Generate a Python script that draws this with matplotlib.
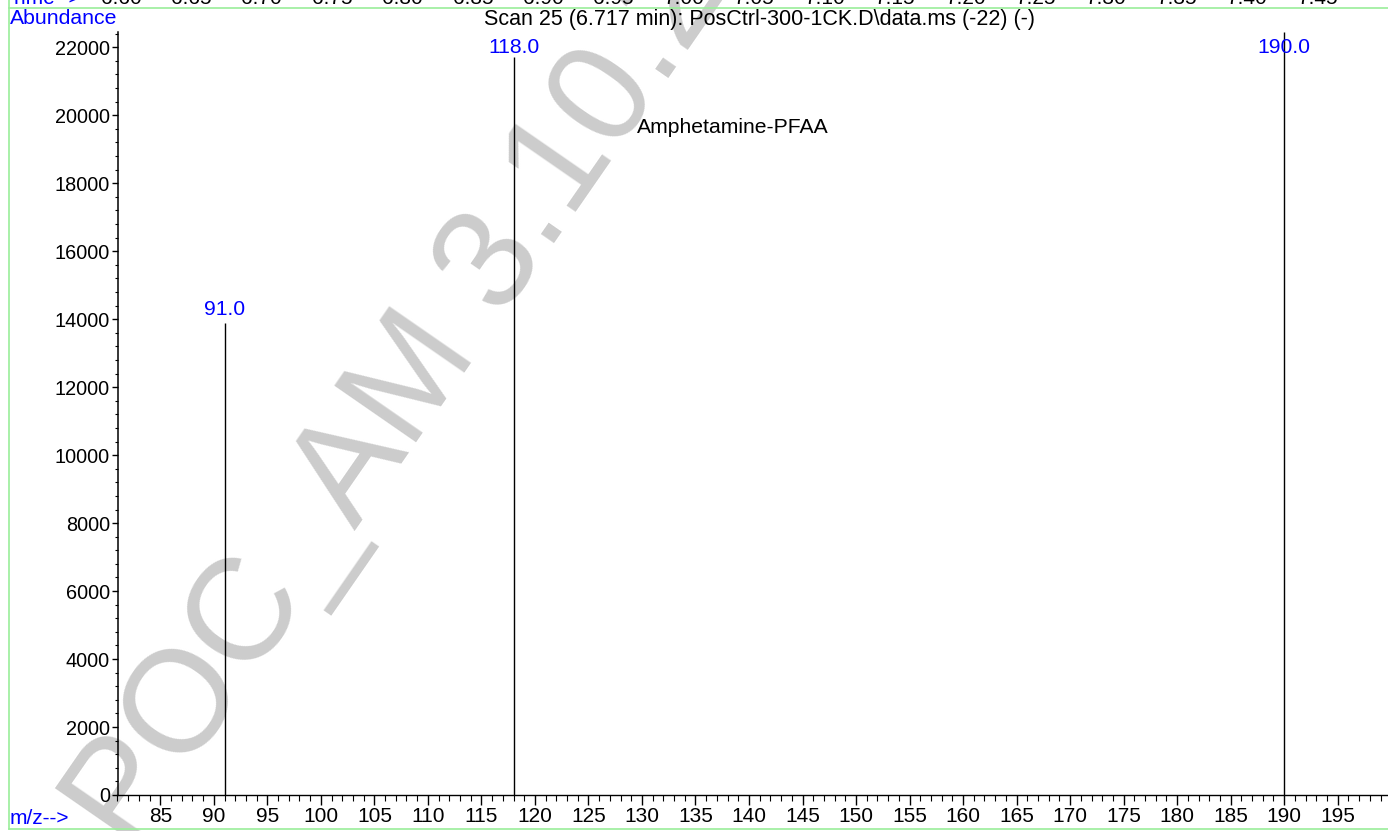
import matplotlib
matplotlib.use("Agg")
import matplotlib.pyplot as plt
from matplotlib.lines import Line2D
from matplotlib.ticker import MultipleLocator


# peaks
MZ = [91.0, 118.0, 190.0]
ABUNDANCE = [13900, 21700, 22450]
PEAK_LABELS = ["91.0", "118.0", "190.0"]

# retention time strip above the spectrum (mostly cut off)
TIME_TICKS = ["6.60", "6.65", "6.70", "6.75", "6.80", "6.85", "6.90", "6.95", "7.00",
              "7.05", "7.10", "7.15", "7.20", "7.25", "7.30", "7.35", "7.40", "7.45"]

TITLE = "Scan 25 (6.717 min): PosCtrl-300-1CK.D\\data.ms (-22) (-)"
COMPOUND = "Amphetamine-PFAA"
WATERMARK = "POC_AM 3.10.2"

W, H = 1388, 831
GREEN = "#99ee99"


def px(x, y):
    # image pixel (from top-left) -> figure fraction
    return x / W, (H - y) / H


def draw():

    plt.rcParams["font.family"] = ["Liberation Sans", "DejaVu Sans"]

    fig = plt.figure(figsize=(W / 100, H / 100), dpi=100)

    # watermark sits behind the axes
    x0, y0 = px(131, 854)
    fig.text(x0, y0, WATERMARK, fontsize=104, color="#cccccc", rotation=55.3,
             rotation_mode="anchor", ha="left", va="baseline", zorder=-5)

    left, bottom = px(117.5, 795)
    _, top = px(0, 32)
    ax = fig.add_axes([left, bottom, 1 - left, top - bottom])
    ax.patch.set_alpha(0)

    ymax = max(ABUNDANCE)
    ax.vlines(MZ, 0, ABUNDANCE, color="black", lw=1)

    label_ceil = ymax * 0.962
    for mz, h, lab in zip(MZ, ABUNDANCE, PEAK_LABELS):
        ax.annotate(lab, xy=(mz, min(h, label_ceil)), xytext=(0, 9.4),
                    textcoords="offset points", ha="center", va="center",
                    color="blue", fontsize=15.2, annotation_clip=False)

    ax.text(129.5, 19650, COMPOUND, fontsize=15.2, ha="left", va="center")

    ax.set_xlim(81, 199.7)
    ax.set_ylim(0, ymax)
    ax.xaxis.set_major_locator(MultipleLocator(5))
    ax.xaxis.set_minor_locator(MultipleLocator(1))
    ax.yaxis.set_major_locator(MultipleLocator(2000))
    ax.yaxis.set_minor_locator(MultipleLocator(400))

    for s in ["top", "right"]:
        ax.spines[s].set_visible(False)
    ax.spines["left"].set_linewidth(1.1)
    ax.spines["bottom"].set_linewidth(1)

    ax.tick_params(axis="y", which="major", length=4, width=1, labelsize=14.3, pad=1.5)
    ax.tick_params(axis="y", which="minor", length=2.3, width=0.8)
    ax.tick_params(axis="x", which="major", length=7, width=1, labelsize=15, pad=1.5)
    ax.tick_params(axis="x", which="minor", length=4.5, width=0.8)

    # header / footer text
    tx, ty = px(760, 19)
    fig.text(tx, ty, TITLE, fontsize=15.5, ha="center", va="center")
    ax_x, ax_y = px(10, 19)
    fig.text(ax_x, ax_y, "Abundance", fontsize=15.3, ha="left", va="center", color="blue")
    mx, my = px(10, 818)
    fig.text(mx, my, "m/z-->", fontsize=15, ha="left", va="center", color="blue")

    bx, by = px(10, 3.5)
    fig.text(bx, by, "Time-->", fontsize=15, ha="left", va="baseline", color="blue")
    for i, t in enumerate(TIME_TICKS):
        cx, _ = px(121 + 70.4 * i, 0)
        fig.text(cx, by, t, fontsize=15, ha="center", va="baseline")

    # green frame lines
    gx, gtop = px(9.3, 7.5)
    _, gbot = px(0, 829)
    fig.add_artist(Line2D([gx, 1], [gtop, gtop], color=GREEN, lw=1.2))
    fig.add_artist(Line2D([gx, 1], [gbot, gbot], color=GREEN, lw=1.2))
    fig.add_artist(Line2D([gx, gx], [gbot, 1], color=GREEN, lw=1.2))

    fig.savefig("out.png", dpi=100)


def main():
    draw()


if __name__ == "__main__":
    main()
